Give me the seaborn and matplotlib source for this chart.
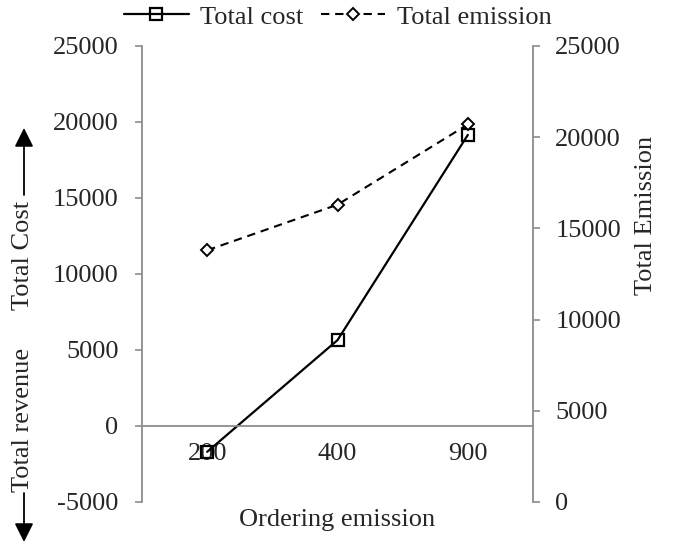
import pandas as pd
import matplotlib
matplotlib.use('Agg')
import matplotlib.pyplot as plt
import seaborn as sns

# chart data
ordering_emission = ['200', '400', '900']
total_cost = [-1700, 5650, 19150]
total_emission = [13800, 16300, 20700]

sns.set_style('white')
plt.rcParams['font.family'] = ['Liberation Serif', 'DejaVu Serif']
plt.rcParams['font.size'] = 19
plt.rcParams['axes.unicode_minus'] = False

df = pd.DataFrame({'x': range(len(ordering_emission)),
                   'cost': total_cost,
                   'emission': total_emission})

W, H = 674, 544
fig = plt.figure(figsize=(W / 100, H / 100), dpi=100)
ax = fig.add_axes([142 / W, 42 / H, 391 / W, 456 / H])
ax2 = ax.twinx()

sns.lineplot(data=df, x='x', y='cost', ax=ax, color='black', lw=1.6,
             marker='s', markersize=8, markerfacecolor='none',
             markeredgecolor='black', markeredgewidth=1.6, label='Total cost',
             legend=False)
sns.lineplot(data=df, x='x', y='emission', ax=ax2, color='black', lw=1.5,
             linestyle=(0, (4, 2.8)), marker='D', markersize=6,
             markerfacecolor='white', markeredgecolor='black',
             markeredgewidth=1.4, label='Total emission', legend=False)

grey = '#8c8c8c'
ax.set_xlim(-0.5, 2.5)
ax.set_ylim(-5000, 25000)
ax2.set_ylim(0, 25000)
ax.set_yticks(range(-5000, 25001, 5000))
ax2.set_yticks(range(0, 25001, 5000))

ax.set_xticks(range(len(ordering_emission)))
ax.set_xticklabels(ordering_emission)
ax.set_xticks([0.5, 1.5], minor=True)
ax.tick_params(axis='x', which='major', length=0, pad=12)
ax.tick_params(axis='x', which='minor', direction='in', length=5, color=grey, width=1.2)
ax.tick_params(axis='y', direction='out', length=5, color=grey, width=1.2, left=True, pad=12)
ax2.tick_params(axis='y', direction='out', length=5, color=grey, width=1.2, right=True, pad=11)

for a in (ax, ax2):
    for s in a.spines.values():
        s.set_color(grey)
        s.set_linewidth(1.3)
    a.spines['top'].set_visible(False)
ax.spines['right'].set_visible(False)
ax2.spines['left'].set_visible(False)
ax2.spines['bottom'].set_visible(False)
ax.spines['bottom'].set_position(('data', 0))

ax.set_xlabel('Ordering emission')
ax.xaxis.set_label_coords(0.5, -0.015)
ax.set_ylabel('')
ax2.set_ylabel('Total Emission', va='center', ha='center')
ax2.yaxis.set_label_coords((646 - 142) / 391, (502 - 215) / 456)

# left axis label with arrows
fig.text(23 / W, 1 - 255 / H, 'Total Cost', rotation=90, ha='center', va='center')
fig.text(23 / W, 1 - 420 / H, 'Total revenue', rotation=90, ha='center', va='center')
arrow = dict(arrowstyle='-|>,head_length=0.6,head_width=0.3', color='black', lw=1.3,
             shrinkA=0, shrinkB=0)
ax.annotate('', xy=(24 / W, 1 - 128 / H), xytext=(24 / W, 1 - 195 / H),
            xycoords='figure fraction', textcoords='figure fraction',
            arrowprops=arrow, annotation_clip=False)
ax.annotate('', xy=(24 / W, 1 - 542 / H), xytext=(24 / W, 1 - 493 / H),
            xycoords='figure fraction', textcoords='figure fraction',
            arrowprops=arrow, annotation_clip=False)

h1, l1 = ax.get_legend_handles_labels()
h2, l2 = ax2.get_legend_handles_labels()
fig.legend(h1 + h2, l1 + l2, loc='center', bbox_to_anchor=(338 / W, 1 - 17 / H),
           ncol=2, frameon=False, handlelength=2.45, columnspacing=0.65,
           handletextpad=0.45, borderpad=0)

fig.savefig('out.png', dpi=100)
